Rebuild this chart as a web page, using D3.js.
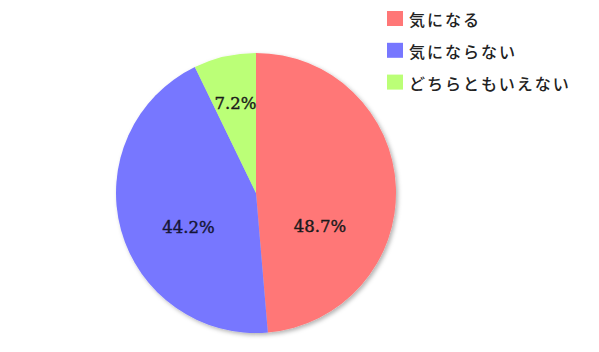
<!DOCTYPE html>
<html><head><meta charset="utf-8">
<script src="https://cdn.jsdelivr.net/npm/d3@7"></script>
<style>body{margin:0;background:#fff;}svg{display:block;}</style>
</head><body>
<svg id="c" width="599" height="352"></svg>
<script>
const categories = ["気になる", "気にならない", "どちらともいえない"];
const values = [48.7, 44.2, 7.2];
const valueLabels = ["48.7%", "44.2%", "7.2%"];
const colors = ["#ff7777", "#7777ff", "#bbff77"];

const svg = d3.select("#c");
const W = 599, H = 352;
const cx = 256, cy = 193, R = 140;

const defs = svg.append("defs");
const f = defs.append("filter").attr("id","sh").attr("x","-10%").attr("y","-10%").attr("width","130%").attr("height","130%");
f.append("feDropShadow").attr("dx",2).attr("dy",2).attr("stdDeviation",2).attr("flood-color","#000").attr("flood-opacity",0.3);

const pie = d3.pie().sort(null).value(d => d)(values);
const arc = d3.arc().innerRadius(0).outerRadius(R);
const g = svg.append("g").attr("transform", `translate(${cx},${cy})`);
g.append("g").attr("filter","url(#sh)")
  .selectAll("path").data(pie).join("path")
  .attr("d", arc).attr("fill", (d,i) => colors[i]);

// label placement: centroid on an inner arc plus a small per-slice shift
const labelArcs = [
  d3.arc().innerRadius(0).outerRadius(128),
  d3.arc().innerRadius(0).outerRadius(140),
  d3.arc().innerRadius(0).outerRadius(184)
];
const labelShift = [[0, 36], [0, 16], [0, 0]];
g.selectAll("text.lbl").data(pie).join("text")
  .attr("class","lbl")
  .attr("transform", (d,i) => {
    const c = labelArcs[i].centroid(d);
    return `translate(${c[0]+labelShift[i][0]},${c[1]+labelShift[i][1]})`;
  })
  .attr("text-anchor","middle").attr("dominant-baseline","central")
  .attr("font-family","DejaVu Serif, serif").attr("font-size",16.5)
  .attr("stroke", (d,i) => i===1 ? "#151535" : "#1a1a1a").attr("stroke-width",0.4)
  .attr("fill", (d,i) => i===1 ? "#151535" : "#1a1a1a")
  .text((d,i) => valueLabels[i]);

// legend
const lg = svg.append("g").attr("transform","translate(387,11)");
const items = lg.selectAll("g").data(categories).join("g")
  .attr("transform", (d,i) => `translate(0,${i*31.8})`);
items.append("rect").attr("width",16).attr("height",15).attr("fill",(d,i)=>colors[i]);
items.append("text").attr("x",22).attr("y",8)
  .attr("dominant-baseline","central")
  .attr("font-family","'Noto Sans CJK JP', sans-serif").attr("font-size",16).attr("font-weight",500)
  .attr("letter-spacing","2px").attr("fill","#222")
  .text(d => d);
</script>
</body></html>
